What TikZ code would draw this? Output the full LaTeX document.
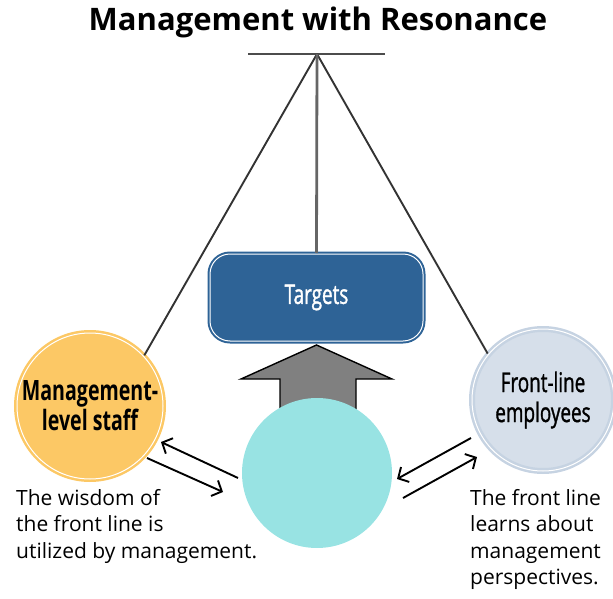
\documentclass[tikz,border=0pt]{standalone}
\usepackage{fontspec}
\setmainfont{Open Sans}
\newfontfamily\condfont[FakeStretch=0.70]{Open Sans}
\newfontfamily\condmed[FakeStretch=0.70, FakeBold=1.2]{Open Sans}
\usetikzlibrary{arrows.meta}
\definecolor{boxblue}{HTML}{2E6396}
\definecolor{mgrorange}{HTML}{FCC865}
\definecolor{midteal}{HTML}{98E3E3}
\definecolor{flefill}{HTML}{D6DFEA}
\definecolor{flering}{HTML}{C6D3E2}
\definecolor{arrowgray}{HTML}{808080}
\begin{document}
\begin{tikzpicture}[x=1pt, y=-1pt,
    hang/.style={line width=1.9pt, draw=black!80},
    flow/.style={line width=1.9pt, -{Straight Barb[length=8pt, width=17pt, line width=1.9pt]}},
    ball/.style={circle, inner sep=0pt, align=center},
    note/.style={anchor=north west, inner sep=0pt, align=left, font=\fontsize{21}{26.5}\selectfont}]
    \useasboundingbox (0,0) rectangle (613,599);
    \clip (0,0) rectangle (613,599);

    % Titel und Waagebalken
    \node (title) at (318,22) {\fontsize{31}{34}\selectfont\bfseries Management with Resonance};
    \coordinate (apex) at (317,54);
    \coordinate (barL) at (248,54);
    \coordinate (barR) at (385,54);
    \draw[line width=1.8pt, draw=black!70] (barL) -- (barR);

    % Kreise und Ziele
    \node[ball, minimum size=146pt, fill=mgrorange, draw=mgrorange, line width=2.5pt,
          double=white, double distance=1pt,
          font=\condfont\bfseries\fontsize{28}{30}\selectfont] (mgr) at (90,406) {Management-\\level staff};
    \node[ball, minimum size=142pt, fill=flefill, draw=flering, line width=2.5pt,
          double=white, double distance=1pt,
          font=\condmed\fontsize{27}{30}\selectfont] (fle) at (543,400) {Front-line\\employees};
    \node[rectangle, rounded corners=20pt, minimum width=213pt, minimum height=87pt,
          fill=boxblue, draw=boxblue, line width=2pt, double=white, double distance=1pt,
          text=white, font=\condmed\fontsize{27}{30}\selectfont] (targets) at (316.5,297.5) {Targets};

    % Aufhaengung
    \draw[hang] (apex) -- (mgr.43);
    \draw[hang] (apex) -- (fle.140);
    \draw[line width=2.8pt, draw=black!60] (apex) -- (targets.north);

    % Blockpfeil nach oben
    \draw[fill=arrowgray, line width=1.4pt, line join=miter]
        (280,420) -- (280,379) -- (241,379) -- (316.5,345) -- (392,379) -- (356,379) -- (356,420);
    \node[ball, minimum size=150pt, fill=midteal] (mid) at (317,473) {};

    % Pfeile zwischen den Kreisen
    \coordinate (l1) at (238,478);
    \coordinate (l2) at (161,442);
    \coordinate (l3) at (147,458);
    \coordinate (l4) at (223,492);
    \coordinate (r1) at (471,438);
    \coordinate (r2) at (397,479);
    \coordinate (r3) at (403,498);
    \coordinate (r4) at (477,457);
    \draw[flow] (l1) -- (l2);
    \draw[flow] (l3) -- (l4);
    \draw[flow] (r1) -- (r2);
    \draw[flow] (r3) -- (r4);

    % Texte
    \node[note] (wisdom) at (16,489) {The wisdom of\\the front line is\\utilized by management.};
    \node[note] (learns) at (470,489) {The front line\\learns about\\management\\perspectives.};
\end{tikzpicture}
\end{document}
